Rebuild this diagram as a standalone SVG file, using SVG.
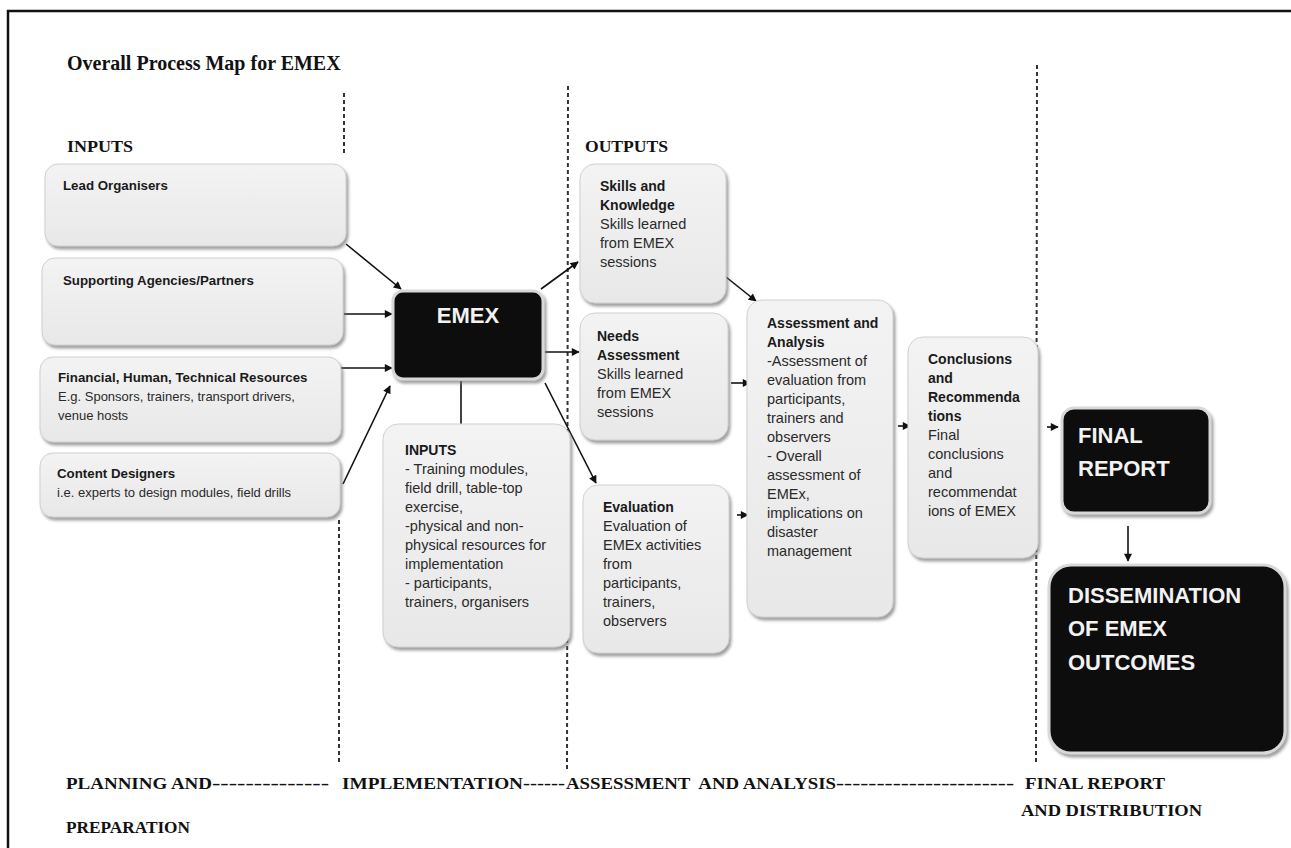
<svg xmlns="http://www.w3.org/2000/svg" width="1291" height="848" viewBox="0 0 1291 848">
<style>
.bx{fill:url(#gg);stroke:#d0d0d0;stroke-width:1;filter:url(#sh)}
.bk{fill:#0e0e0e;stroke:#d8d8d8;stroke-width:3;filter:url(#sh)}
.tm{font-family:"Liberation Serif","Times New Roman",serif;font-weight:bold;fill:#111}
.lb{font-family:"Liberation Sans",Arial,sans-serif;font-weight:bold;font-size:13.3px;fill:#1a1a1a}
.lt{font-family:"Liberation Sans",Arial,sans-serif;font-size:13px;fill:#2a2a2a}
.hb{font-family:"Liberation Sans",Arial,sans-serif;font-weight:bold;font-size:14px;fill:#1a1a1a}
.ht{font-family:"Liberation Sans",Arial,sans-serif;font-size:14.5px;fill:#2a2a2a}
.wt{font-family:"Liberation Sans",Arial,sans-serif;font-weight:bold;font-size:22px;fill:#f2f2f2}
.dl{stroke:#333;stroke-width:2;stroke-dasharray:4 3;fill:none}
.cn{stroke:#111;stroke-width:1.6;fill:none;marker-end:url(#ah)}
</style>
<defs>
<linearGradient id="gg" x1="0" y1="0" x2="0" y2="1"><stop offset="0" stop-color="#f3f3f3"/><stop offset="1" stop-color="#e8e8e8"/></linearGradient>
<filter id="sh" x="-10%" y="-10%" width="125%" height="125%"><feDropShadow dx="2" dy="3" stdDeviation="1.5" flood-color="#777" flood-opacity="0.7"/></filter>
<marker id="ah" viewBox="0 0 10 10" refX="9" refY="5" markerWidth="9" markerHeight="8" markerUnits="userSpaceOnUse" orient="auto"><path d="M0,0 L10,5 L0,10 z" fill="#111"/></marker>
</defs>
<rect width="1291" height="848" fill="#fff"/>
<path d="M8,848 V11 H1291" fill="none" stroke="#111" stroke-width="2.5"/>

<g id="dividers">
<line class="dl" x1="344" y1="93" x2="344" y2="155"/>
<line class="dl" x1="339" y1="520" x2="339" y2="765"/>
<line class="dl" x1="568" y1="86" x2="567" y2="772"/>
<line class="dl" x1="1037" y1="65" x2="1036" y2="765"/>
</g>

<g id="headings">
<text class="tm" x="67" y="70" font-size="20">Overall Process Map for EMEX</text>
<text class="tm" x="67" y="152" font-size="16" textLength="66" lengthAdjust="spacingAndGlyphs">INPUTS</text>
<text class="tm" x="585" y="152" font-size="16" textLength="83" lengthAdjust="spacingAndGlyphs">OUTPUTS</text>
</g>

<g id="connectors">
<line class="cn" x1="346" y1="244" x2="401" y2="289"/>
<line class="cn" x1="344" y1="314" x2="392" y2="314"/>
<line class="cn" x1="341" y1="368" x2="392" y2="368"/>
<line class="cn" x1="343" y1="484" x2="390" y2="386"/>
<line class="cn" x1="541" y1="289" x2="578" y2="262"/>
<line class="cn" x1="545" y1="352" x2="579" y2="352"/>
<line class="cn" x1="545" y1="383" x2="596" y2="483"/>
<line class="cn" x1="726" y1="277" x2="756" y2="301"/>
<line class="cn" x1="731" y1="383" x2="750" y2="383"/>
<line class="cn" x1="737" y1="515" x2="748" y2="515"/>
<line class="cn" x1="898" y1="426" x2="910" y2="426"/>
<line class="cn" x1="1047" y1="427" x2="1058" y2="427"/>
<line class="cn" x1="1128" y1="526" x2="1128" y2="561"/>
<line x1="461" y1="381" x2="461" y2="424" stroke="#111" stroke-width="1.6"/>
</g>

<g id="lead-organisers">
<rect class="bx" x="45" y="164" width="301" height="82" rx="13"/>
<text class="lb" x="63" y="190">Lead Organisers</text>
</g>
<g id="supporting-agencies">
<rect class="bx" x="42" y="258" width="301" height="87" rx="13"/>
<text class="lb" x="63" y="285">Supporting Agencies/Partners</text>
</g>
<g id="resources">
<rect class="bx" x="40" y="357" width="301" height="85" rx="13"/>
<text class="lb" x="58" y="382">Financial, Human, Technical Resources</text>
<text class="lt" x="58" y="401">E.g. Sponsors, trainers, transport drivers,</text>
<text class="lt" x="58" y="420">venue hosts</text>
</g>
<g id="content-designers">
<rect class="bx" x="40" y="453" width="300" height="64" rx="13"/>
<text class="lb" x="57" y="478">Content Designers</text>
<text class="lt" x="57" y="497">i.e. experts to design modules, field drills</text>
</g>

<g id="emex">
<rect class="bk" x="393" y="291" width="150" height="88" rx="10"/>
<text class="wt" x="468" y="323" text-anchor="middle" font-size="20" font-weight="normal">EMEX</text>
</g>

<g id="impl-inputs">
<rect class="bx" x="383" y="424" width="187" height="223" rx="15"/>
<text class="hb" x="405" y="455">INPUTS</text>
<text class="ht" x="405" y="474" font-size="14">- Training modules,</text>
<text class="ht" x="405" y="493" font-size="14">field drill, table-top</text>
<text class="ht" x="405" y="512" font-size="14">exercise,</text>
<text class="ht" x="405" y="531" font-size="14">-physical and non-</text>
<text class="ht" x="405" y="550" font-size="14">physical resources for</text>
<text class="ht" x="405" y="569" font-size="14">implementation</text>
<text class="ht" x="405" y="588" font-size="14">- participants,</text>
<text class="ht" x="405" y="607" font-size="14">trainers, organisers</text>
</g>

<g id="skills-knowledge">
<rect class="bx" x="580" y="164" width="146" height="139" rx="15"/>
<text class="hb" x="600" y="191">Skills and</text>
<text class="hb" x="600" y="210">Knowledge</text>
<text class="ht" x="600" y="229">Skills learned</text>
<text class="ht" x="600" y="248">from EMEX</text>
<text class="ht" x="600" y="267">sessions</text>
</g>
<g id="needs-assessment">
<rect class="bx" x="580" y="313" width="148" height="127" rx="15"/>
<text class="hb" x="597" y="341">Needs</text>
<text class="hb" x="597" y="360">Assessment</text>
<text class="ht" x="597" y="379">Skills learned</text>
<text class="ht" x="597" y="398">from EMEX</text>
<text class="ht" x="597" y="417">sessions</text>
</g>
<g id="evaluation">
<rect class="bx" x="583" y="485" width="146" height="168" rx="15"/>
<text class="hb" x="603" y="512">Evaluation</text>
<text class="ht" x="603" y="531">Evaluation of</text>
<text class="ht" x="603" y="550">EMEx activities</text>
<text class="ht" x="603" y="569">from</text>
<text class="ht" x="603" y="588">participants,</text>
<text class="ht" x="603" y="607">trainers,</text>
<text class="ht" x="603" y="626">observers</text>
</g>

<g id="assessment-analysis">
<rect class="bx" x="747" y="300" width="146" height="317" rx="15"/>
<text class="hb" x="767" y="328">Assessment and</text>
<text class="hb" x="767" y="347">Analysis</text>
<text class="ht" x="767" y="366">-Assessment of</text>
<text class="ht" x="767" y="385">evaluation from</text>
<text class="ht" x="767" y="404">participants,</text>
<text class="ht" x="767" y="423">trainers and</text>
<text class="ht" x="767" y="442">observers</text>
<text class="ht" x="767" y="461">- Overall</text>
<text class="ht" x="767" y="480">assessment of</text>
<text class="ht" x="767" y="499">EMEx,</text>
<text class="ht" x="767" y="518">implications on</text>
<text class="ht" x="767" y="537">disaster</text>
<text class="ht" x="767" y="556">management</text>
</g>

<g id="conclusions">
<rect class="bx" x="908" y="337" width="130" height="221" rx="15"/>
<text class="hb" x="928" y="364">Conclusions</text>
<text class="hb" x="928" y="383">and</text>
<text class="hb" x="928" y="402">Recommenda</text>
<text class="hb" x="928" y="421">tions</text>
<text class="ht" x="928" y="440">Final</text>
<text class="ht" x="928" y="459">conclusions</text>
<text class="ht" x="928" y="478">and</text>
<text class="ht" x="928" y="497">recommendat</text>
<text class="ht" x="928" y="516">ions of EMEX</text>
</g>

<g id="final-report">
<rect class="bk" x="1062" y="408" width="148" height="105" rx="12"/>
<text class="wt" x="1078" y="443">FINAL</text>
<text class="wt" x="1078" y="476">REPORT</text>
</g>

<g id="dissemination">
<rect class="bk" x="1049" y="565" width="236" height="188" rx="22"/>
<text class="wt" x="1068" y="603">DISSEMINATION</text>
<text class="wt" x="1068" y="636">OF EMEX</text>
<text class="wt" x="1068" y="670">OUTCOMES</text>
</g>

<g id="phases">
<text class="tm" x="66" y="789" font-size="16" textLength="146" lengthAdjust="spacingAndGlyphs">PLANNING AND</text>
<text class="tm" x="212" y="789" font-size="16" textLength="117" lengthAdjust="spacingAndGlyphs">--------------</text>
<text class="tm" x="342" y="789" font-size="16" textLength="181" lengthAdjust="spacingAndGlyphs">IMPLEMENTATION</text>
<text class="tm" x="523" y="789" font-size="16" textLength="42" lengthAdjust="spacingAndGlyphs">------</text>
<text class="tm" x="566" y="789" font-size="16" textLength="270" lengthAdjust="spacingAndGlyphs" xml:space="preserve">ASSESSMENT  AND ANALYSIS</text>
<text class="tm" x="836" y="789" font-size="16" textLength="178" lengthAdjust="spacingAndGlyphs">----------------------</text>
<text class="tm" x="1025" y="789" font-size="16" textLength="140" lengthAdjust="spacingAndGlyphs">FINAL REPORT</text>
<text class="tm" x="1021" y="816" font-size="16" textLength="181" lengthAdjust="spacingAndGlyphs">AND DISTRIBUTION</text>
<text class="tm" x="66" y="833" font-size="16" textLength="124" lengthAdjust="spacingAndGlyphs">PREPARATION</text>
</g>
</svg>
